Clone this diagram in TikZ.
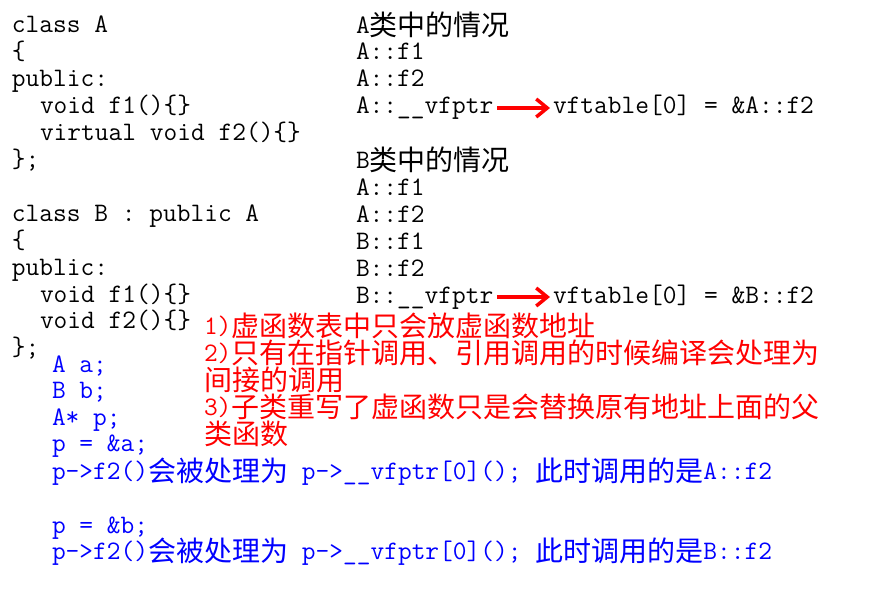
\documentclass[tikz,border=0pt]{standalone}
\usepackage{fontspec}
\newfontfamily\cjkfont{Noto Sans CJK SC}
\usetikzlibrary{arrows.meta}
\newcommand\zh[1]{\raisebox{-2.5pt}{\fontsize{28}{27}\selectfont\cjkfont #1}}
\tikzset{
  code/.style={anchor=base west, inner sep=0pt, outer sep=0pt,
    text height=19pt, text depth=6pt,
    font=\fontsize{26.67}{27}\selectfont\ttfamily\frenchspacing},
  rtxt/.style={code, text=red},
  btxt/.style={code, text=blue},
  ptr/.style={red, line width=3.5pt, -{Straight Barb[length=11pt,width=18pt]},
    shorten <=4pt, shorten >=3pt}
}
\begin{document}
\begin{tikzpicture}[x=1pt,y=-1pt]
\fill[white] (0,0) rectangle (876,597);
\useasboundingbox (0,0) rectangle (876,597);
% left column: class code
\node[code] (c1) at (12,32) {class A};
\node[code] (c2) at (12,59) {\{};
\node[code] (c3) at (12,86) {public:};
\node[code] (c4) at (40,113) {void f1()\{\}};
\node[code] (c5) at (40,140) {virtual void f2()\{\}};
\node[code] (c6) at (12,167) {\};};
\node[code] (c7) at (12,221) {class B : public A};
\node[code] (c8) at (12,248) {\{};
\node[code] (c9) at (12,275) {public:};
\node[code] (c10) at (40,302) {void f1()\{\}};
\node[code] (c11) at (40,328) {void f2()\{\}};
\node[code] (c12) at (12,355) {\};};
% right column: A
\node[code] (a0) at (356,33) {A\zh{类中的情况}};
\node[code] (a1) at (356,59) {A::f1};
\node[code] (a2) at (356,86) {A::f2};
\node[code] (a3) at (356,113) {A::\_\_vfptr};
\node[code] (a3t) at (553,113) {vftable[0] = \&A::f2};
\draw[ptr] ([yshift=5pt]a3.base east) -- ([yshift=5pt]a3t.base west);
% right column: B
\node[code] (b0) at (356,168) {B\zh{类中的情况}};
\node[code] (b1) at (356,195) {A::f1};
\node[code] (b2) at (356,222) {A::f2};
\node[code] (b3) at (356,249) {B::f1};
\node[code] (b4) at (356,276) {B::f2};
\node[code] (b5) at (356,303) {B::\_\_vfptr};
\node[code] (b5t) at (553,303) {vftable[0] = \&B::f2};
\draw[ptr] ([yshift=6pt]b5.base east) -- ([yshift=6pt]b5t.base west);
% red notes
\node[rtxt] (r1) at (204,334) {1)\zh{虚函数表中只会放虚函数地址}};
\node[rtxt] (r2) at (204,361) {2)\zh{只有在指针调用、引用调用的时候编译会处理为}};
\node[rtxt] (r3) at (204,388) {\zh{间接的调用}};
\node[rtxt] (r4) at (204,415) {3)\zh{子类重写了虚函数只是会替换原有地址上面的父}};
\node[rtxt] (r5) at (204,442) {\zh{类函数}};
% blue usage
\node[btxt] (u1) at (52,372) {A a;};
\node[btxt] (u2) at (52,398) {B b;};
\node[btxt] (u3) at (52,425) {A* p;};
\node[btxt] (u4) at (52,451) {p = \&a;};
\node[btxt] (u5) at (52,479) {p->f2()\zh{会被处理为} p->\_\_vfptr[0](); \zh{此时调用的是}A::f2};
\node[btxt] (u6) at (52,533) {p = \&b;};
\node[btxt] (u7) at (52,559) {p->f2()\zh{会被处理为} p->\_\_vfptr[0](); \zh{此时调用的是}B::f2};
\end{tikzpicture}
\end{document}
